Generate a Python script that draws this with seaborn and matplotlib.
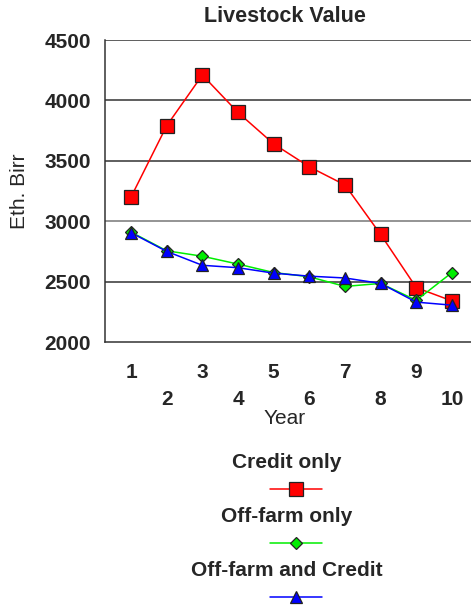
import matplotlib
matplotlib.use("Agg")
import matplotlib.pyplot as plt
from matplotlib.lines import Line2D
import seaborn as sns
import pandas as pd

years = [1, 2, 3, 4, 5, 6, 7, 8, 9, 10]
credit_only = [3200, 3790, 4210, 3900, 3640, 3450, 3300, 2890, 2450, 2340]
offfarm_only = [2910, 2755, 2710, 2645, 2575, 2540, 2460, 2485, 2345, 2575]
offfarm_credit = [2905, 2750, 2635, 2615, 2570, 2545, 2530, 2485, 2330, 2305]
series_names = ["Credit only", "Off-farm only", "Off-farm and Credit"]
y_ticks = [2000, 2500, 3000, 3500, 4000, 4500]

sns.set_theme(style="white")
plt.rcParams["font.family"] = ["Liberation Sans", "DejaVu Sans"]

df = pd.DataFrame({
    "Year": years * 3,
    "value": credit_only + offfarm_only + offfarm_credit,
    "series": [series_names[0]] * 10 + [series_names[1]] * 10 + [series_names[2]] * 10,
})

fig = plt.figure(figsize=(4.71, 6.07), dpi=100)
ax = fig.add_axes([105 / 471, 1 - 342 / 607, (478 - 105) / 471, (342 - 40) / 607])

styles = {
    series_names[0]: dict(color="#ff0000", marker="s", ms=9.5, mfc="#ff0000"),
    series_names[1]: dict(color="#00ee00", marker="D", ms=6.5, mfc="#00ee00"),
    series_names[2]: dict(color="#0000ff", marker="^", ms=9, mfc="#0000ff"),
}

for name in series_names:
    st = styles[name]
    sns.lineplot(data=df[df["series"] == name], x="Year", y="value", ax=ax,
                 color=st["color"], marker=st["marker"], markersize=st["ms"],
                 markerfacecolor=st["mfc"], markeredgecolor="#222222",
                 markeredgewidth=0.9, linewidth=1.1, legend=False)

ax.set_xlim(0.27, 10.73)
ax.set_ylim(2000, 4500)
ax.set_yticks(y_ticks)
ax.set_yticklabels([str(v) for v in y_ticks], fontsize=15, fontweight="bold")
ax.set_xticks(years)
ax.set_xticklabels([str(y) if y % 2 else "\n" + str(y) for y in years],
                   fontsize=15, fontweight="bold", linespacing=1.55)
ax.tick_params(axis="both", length=0)
ax.tick_params(axis="x", pad=15)
ax.tick_params(axis="y", pad=10)

for v in y_ticks[1:]:
    ax.axhline(v, color="#333333" if v != 3000 else "#777777", lw=1.1, zorder=0)

for side in ["top", "right"]:
    ax.spines[side].set_visible(False)
for side in ["left", "bottom"]:
    ax.spines[side].set_color("#333333")
    ax.spines[side].set_linewidth(1.1)

ax.set_xlabel("Year", fontsize=15)
ax.xaxis.set_label_coords((284.5 - 105) / 373, -(409 - 342) / 302)
ax.set_ylabel("Eth. Birr", fontsize=15)
ax.yaxis.set_label_coords(-(105 - 29) / 373, 0.5)
fig.text(285 / 471, 1 - 16 / 607, "Livestock Value", ha="center", va="center",
         fontsize=15.5, fontweight="bold")

# legend: name above, sample line below
legend_rows = [(462, 489), (517, 543), (571, 597)]
for name, (ty, ly) in zip(series_names, legend_rows):
    st = styles[name]
    fig.text(287 / 471, 1 - ty / 607, name, ha="center", va="center",
             fontsize=15, fontweight="bold")
    fig.add_artist(Line2D([270 / 471, 322 / 471], [1 - ly / 607] * 2,
                          transform=fig.transFigure, color=st["color"], lw=1.1))
    fig.add_artist(Line2D([296 / 471], [1 - ly / 607], transform=fig.transFigure,
                          marker=st["marker"], markersize=st["ms"],
                          markerfacecolor=st["mfc"], markeredgecolor="#222222",
                          markeredgewidth=0.9, linestyle="none"))

fig.savefig("out.png", dpi=100)
